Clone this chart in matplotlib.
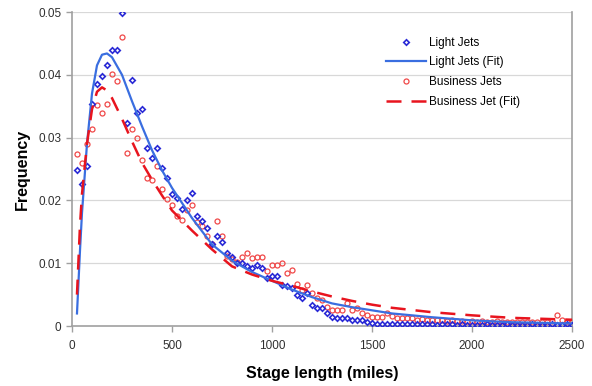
import matplotlib
matplotlib.use("Agg")
import matplotlib.pyplot as plt

plt.rcParams['font.family'] = ['Liberation Sans', 'DejaVu Sans']

# stage length bins (miles)
stage = list(range(25, 2501, 25))

light_jets = [
    0.0248, 0.0226, 0.0255, 0.0353, 0.0386, 0.0398, 0.0416, 0.0439, 0.0439, 0.0498,
    0.0323, 0.0391, 0.0339, 0.0345, 0.0283, 0.0267, 0.0283, 0.0252, 0.0236, 0.0210,
    0.0204, 0.0187, 0.0201, 0.0212, 0.0175, 0.0167, 0.0156, 0.0130, 0.0143, 0.0134,
    0.0116, 0.0110, 0.0100, 0.0100, 0.0096, 0.0092, 0.0097, 0.0092, 0.0077, 0.0079,
    0.0079, 0.0066, 0.0064, 0.0060, 0.0050, 0.0044, 0.0052, 0.0033, 0.0029, 0.0028,
    0.0021, 0.0015, 0.0013, 0.0013, 0.0013, 0.0009, 0.0009, 0.0009, 0.0007, 0.0005,
    0.0003, 0.0003, 0.0004, 0.0003, 0.0003, 0.0003, 0.0003, 0.0004, 0.0003, 0.0003,
    0.0003, 0.0003, 0.0002, 0.0003, 0.0003, 0.0003, 0.0002, 0.0003, 0.0002, 0.0001,
    0.0002, 0.0002, 0.0003, 0.0002, 0.0002, 0.0002, 0.0003, 0.0002, 0.0002, 0.0002,
    0.0002, 0.0003, 0.0002, 0.0002, 0.0002, 0.0003, 0.0002, 0.0002, 0.0003, 0.0002,
]

business_jets = [
    0.0274, 0.0260, 0.0290, 0.0314, 0.0352, 0.0339, 0.0354, 0.0402, 0.0390, 0.0460,
    0.0275, 0.0314, 0.0300, 0.0265, 0.0235, 0.0232, 0.0255, 0.0218, 0.0203, 0.0193,
    0.0175, 0.0169, 0.0184, 0.0193, 0.0166, 0.0159, 0.0143, 0.0130, 0.0167, 0.0143,
    0.0111, 0.0106, 0.0102, 0.0110, 0.0116, 0.0108, 0.0110, 0.0110, 0.0088, 0.0097,
    0.0097, 0.0101, 0.0084, 0.0089, 0.0067, 0.0057, 0.0065, 0.0052, 0.0044, 0.0042,
    0.0031, 0.0025, 0.0025, 0.0025, 0.0036, 0.0025, 0.0028, 0.0020, 0.0018, 0.0015,
    0.0014, 0.0015, 0.0020, 0.0016, 0.0013, 0.0012, 0.0012, 0.0012, 0.0010, 0.0011,
    0.0010, 0.0009, 0.0010, 0.0009, 0.0008, 0.0009, 0.0008, 0.0008, 0.0007, 0.0008,
    0.0007, 0.0008, 0.0007, 0.0007, 0.0008, 0.0007, 0.0006, 0.0007, 0.0007, 0.0006,
    0.0007, 0.0006, 0.0007, 0.0006, 0.0007, 0.0008, 0.0018, 0.0010, 0.0007, 0.0006,
]

# fitted curves
fit_x = [25, 40, 50, 75, 100, 125, 150, 175, 200, 250, 300, 350, 400, 450, 500,
         600, 700, 800, 900, 1000, 1100, 1200, 1300, 1400, 1500, 1600, 1800,
         2000, 2200, 2500]
light_fit = [0.0020, 0.0120, 0.0180, 0.0290, 0.0370, 0.0415, 0.0432, 0.0434,
             0.0428, 0.0400, 0.0358, 0.0318, 0.0280, 0.0248, 0.0220, 0.0172,
             0.0130, 0.0104, 0.0086, 0.0072, 0.0058, 0.0046, 0.0036, 0.0030,
             0.0025, 0.0020, 0.0014, 0.0009, 0.0006, 0.0004]
business_fit = [0.0050, 0.0160, 0.0210, 0.0290, 0.0345, 0.0373, 0.0380, 0.0375,
                0.0363, 0.0330, 0.0294, 0.0260, 0.0233, 0.0208, 0.0184, 0.0152,
                0.0122, 0.0095, 0.0082, 0.0072, 0.0064, 0.0055, 0.0047, 0.0040,
                0.0034, 0.0029, 0.0022, 0.0017, 0.0013, 0.0010]

fig = plt.figure(figsize=(5.92, 3.86), dpi=100)
ax = fig.add_axes([0.1216, 0.1554, 0.8446, 0.8135])

blue = '#2a2ad6'
red = '#f04848'

ax.plot(stage, light_jets, linestyle='none', marker='D', markersize=2.8,
        markerfacecolor='none', markeredgecolor=blue, markeredgewidth=1.2,
        label='Light Jets', zorder=3)
ax.plot(fit_x, light_fit, color='#3a6ee0', linewidth=1.6,
        label='Light Jets (Fit)', zorder=4)
ax.plot(stage, business_jets, linestyle='none', marker='o', markersize=3.6,
        markerfacecolor='none', markeredgecolor=red, markeredgewidth=0.9,
        label='Business Jets', zorder=2)
ax.plot(fit_x, business_fit, color='#e8141e', linewidth=1.8,
        dashes=(6, 4), label='Business Jet (Fit)', zorder=4)

ax.set_xlim(0, 2500)
ax.set_ylim(0, 0.05)
ax.set_xticks([0, 500, 1000, 1500, 2000, 2500])
ax.set_yticks([0, 0.01, 0.02, 0.03, 0.04, 0.05])
ax.set_yticklabels(['0', '0.01', '0.02', '0.03', '0.04', '0.05'])
ax.yaxis.grid(True, color='#d8d8d8', linewidth=0.9)
ax.set_axisbelow(True)

for s in ax.spines.values():
    s.set_color('#a0a0a0')
    s.set_linewidth(1.2)
ax.spines['top'].set_visible(False)

ax.tick_params(axis='both', labelsize=8.5, labelcolor='#303030',
               color='#a0a0a0', length=4, width=1)
ax.tick_params(axis='x', pad=6)

ax.set_xlabel('Stage length (miles)', fontsize=11.5, fontweight='bold', labelpad=10)
ax.set_ylabel('Frequency', fontsize=11.5, fontweight='bold', labelpad=6)

leg = ax.legend(loc='upper right', bbox_to_anchor=(0.918, 0.955), frameon=False,
                fontsize=8.5, handlelength=3.4, labelspacing=0.65, handletextpad=0.3)

fig.savefig('out.png', dpi=100)
